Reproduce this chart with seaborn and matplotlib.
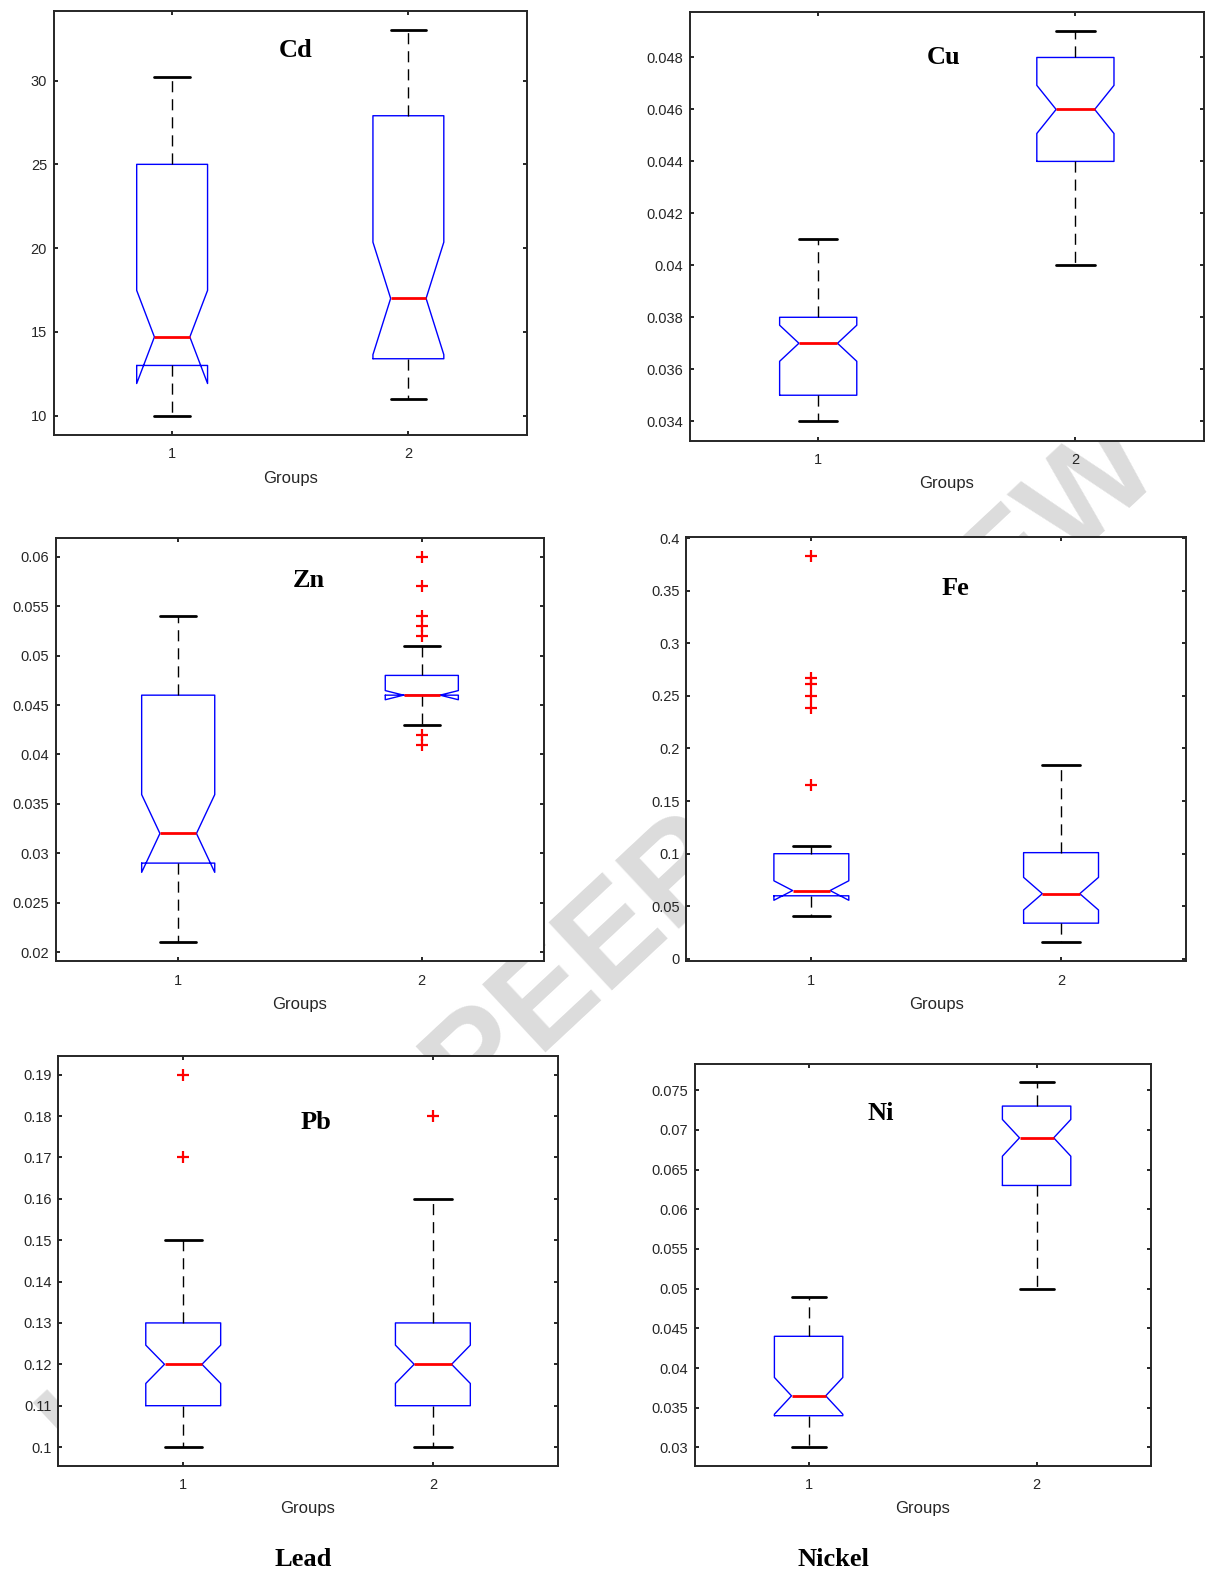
import numpy as np
import pandas as pd
import matplotlib
matplotlib.use("Agg")
import matplotlib.pyplot as plt
from matplotlib.ticker import MultipleLocator, FuncFormatter
import seaborn as sns

# ---------------- data ----------------
groups = ["1", "2"]

cd_g1 = [10.0, 10.4, 10.9, 11.2, 11.5, 11.8, 12.1, 12.3, 12.5, 12.7, 12.9,
         13.0, 13.0,
         13.2, 13.4, 13.5, 13.7, 13.9, 14.0, 14.2, 14.4, 14.5,
         14.7, 14.7,
         15.3, 16.1, 17.0, 18.2, 19.4, 20.5, 21.6, 22.8, 24.0,
         25.0, 25.0,
         25.6, 26.1, 26.7, 27.2, 27.6, 28.1, 28.5, 28.9, 29.4, 29.8, 30.2]
cd_g2 = [11.0, 11.3, 11.6, 11.9, 12.1, 12.4, 12.6, 12.8, 13.0, 13.1, 13.3,
         13.4, 13.4,
         13.8, 14.2, 14.6, 15.0, 15.4, 15.8, 16.2, 16.5, 16.8,
         17.0, 17.0,
         17.9, 19.0, 20.1, 21.3, 22.4, 23.6, 24.8, 25.9, 27.0,
         27.9, 27.9,
         28.4, 28.9, 29.3, 29.8, 30.2, 30.7, 31.1, 31.6, 32.0, 32.5, 33.0]

cu_g1 = [0.034, 0.034, 0.034, 0.034, 0.035, 0.035, 0.035, 0.035, 0.035, 0.035, 0.035,
         0.035, 0.035,
         0.036, 0.036, 0.036, 0.036, 0.036, 0.037, 0.037, 0.037, 0.037,
         0.037, 0.037,
         0.037, 0.037, 0.037, 0.037, 0.038, 0.038, 0.038, 0.038, 0.038,
         0.038, 0.038,
         0.038, 0.038, 0.038, 0.039, 0.039, 0.039, 0.040, 0.040, 0.040, 0.041, 0.041]
cu_g2 = [0.040, 0.041, 0.041, 0.042, 0.042, 0.043, 0.043, 0.043, 0.044, 0.044, 0.044,
         0.044, 0.044,
         0.045, 0.045, 0.045, 0.045, 0.045, 0.046, 0.046, 0.046, 0.046,
         0.046, 0.046,
         0.046, 0.046, 0.047, 0.047, 0.047, 0.047, 0.047, 0.048, 0.048,
         0.048, 0.048,
         0.048, 0.048, 0.048, 0.048, 0.048, 0.049, 0.049, 0.049, 0.049, 0.049, 0.049]

zn_g1 = [0.021, 0.022, 0.023, 0.024, 0.025, 0.026, 0.026, 0.027, 0.028, 0.028, 0.029,
         0.029, 0.029,
         0.030, 0.030, 0.030, 0.031, 0.031, 0.031, 0.031, 0.032, 0.032,
         0.032, 0.032,
         0.033, 0.034, 0.036, 0.037, 0.039, 0.040, 0.042, 0.043, 0.045,
         0.046, 0.046,
         0.046, 0.047, 0.048, 0.048, 0.049, 0.050, 0.051, 0.052, 0.052, 0.053, 0.054]
zn_g2 = [0.041, 0.042, 0.043, 0.044, 0.044, 0.045, 0.045, 0.045, 0.046, 0.046, 0.046,
         0.046, 0.046,
         0.046, 0.046, 0.046, 0.046, 0.046, 0.046, 0.046, 0.046, 0.046,
         0.046, 0.046,
         0.046, 0.046, 0.047, 0.047, 0.047, 0.047, 0.047, 0.048, 0.048,
         0.048, 0.048,
         0.048, 0.049, 0.049, 0.050, 0.050, 0.051, 0.052, 0.053, 0.054, 0.057, 0.060]

fe_g1 = [0.041, 0.046, 0.050, 0.052, 0.054, 0.055, 0.056, 0.057, 0.058, 0.059, 0.060,
         0.060, 0.060,
         0.061, 0.061, 0.062, 0.062, 0.063, 0.063, 0.064, 0.064, 0.065,
         0.065, 0.065,
         0.067, 0.070, 0.073, 0.077, 0.081, 0.085, 0.089, 0.093, 0.097,
         0.100, 0.100,
         0.101, 0.102, 0.104, 0.105, 0.107, 0.165, 0.238, 0.250, 0.261, 0.267, 0.383]
fe_g2 = [0.016, 0.019, 0.021, 0.023, 0.025, 0.027, 0.028, 0.030, 0.031, 0.032, 0.033,
         0.034, 0.034,
         0.036, 0.039, 0.042, 0.045, 0.048, 0.051, 0.054, 0.057, 0.060,
         0.062, 0.062,
         0.065, 0.069, 0.073, 0.077, 0.081, 0.085, 0.089, 0.093, 0.097,
         0.101, 0.101,
         0.104, 0.108, 0.113, 0.119, 0.126, 0.134, 0.143, 0.152, 0.162, 0.173, 0.184]

pb_g1 = [0.10, 0.10, 0.10, 0.10, 0.10, 0.10, 0.11, 0.11, 0.11, 0.11, 0.11,
         0.11, 0.11,
         0.11, 0.11, 0.11, 0.12, 0.12, 0.12, 0.12, 0.12, 0.12,
         0.12, 0.12,
         0.12, 0.12, 0.12, 0.12, 0.13, 0.13, 0.13, 0.13, 0.13,
         0.13, 0.13,
         0.13, 0.13, 0.13, 0.14, 0.14, 0.14, 0.15, 0.15, 0.15, 0.17, 0.19]
pb_g2 = [0.10, 0.10, 0.10, 0.10, 0.10, 0.10, 0.11, 0.11, 0.11, 0.11, 0.11,
         0.11, 0.11,
         0.11, 0.11, 0.11, 0.12, 0.12, 0.12, 0.12, 0.12, 0.12,
         0.12, 0.12,
         0.12, 0.12, 0.12, 0.12, 0.13, 0.13, 0.13, 0.13, 0.13,
         0.13, 0.13,
         0.13, 0.13, 0.13, 0.14, 0.14, 0.14, 0.15, 0.15, 0.16, 0.16, 0.18]

ni_g1 = [0.030, 0.031, 0.031, 0.032, 0.032, 0.033, 0.033, 0.033, 0.034, 0.034, 0.034,
         0.034, 0.034,
         0.034, 0.035, 0.035, 0.035, 0.035, 0.036, 0.036, 0.036, 0.036,
         0.036, 0.037,
         0.037, 0.038, 0.038, 0.039, 0.040, 0.041, 0.042, 0.043, 0.043,
         0.044, 0.044,
         0.044, 0.045, 0.045, 0.046, 0.046, 0.047, 0.047, 0.048, 0.048, 0.049, 0.049]
ni_g2 = [0.050, 0.053, 0.055, 0.057, 0.058, 0.059, 0.060, 0.061, 0.062, 0.062, 0.063,
         0.063, 0.063,
         0.064, 0.064, 0.065, 0.066, 0.066, 0.067, 0.067, 0.068, 0.068,
         0.069, 0.069,
         0.070, 0.070, 0.070, 0.071, 0.071, 0.071, 0.072, 0.072, 0.072,
         0.073, 0.073,
         0.073, 0.073, 0.074, 0.074, 0.074, 0.075, 0.075, 0.075, 0.076, 0.076, 0.076]

element_labels = ["Cd", "Cu", "Zn", "Fe", "Pb", "Ni"]
series = [(cd_g1, cd_g2), (cu_g1, cu_g2), (zn_g1, zn_g2),
          (fe_g1, fe_g2), (pb_g1, pb_g2), (ni_g1, ni_g2)]
tick_steps = [5, 0.002, 0.005, 0.05, 0.01, 0.005]
x_label = "Groups"
captions = ["Lead", "Nickel"]
watermark = "UNDER PEER REVIEW"

# ---------------- layout (pixel boxes: left, right, top, bottom) ----------------
W, H = 1208, 1578
boxes = [(54, 526.5, 11, 435), (689.6, 1204, 12, 440.7),
         (56.4, 543.6, 537.6, 961.4), (686.5, 1185.9, 536.6, 961.4),
         (58.4, 557.7, 1056, 1465.7), (694.6, 1150.6, 1064, 1465.7)]
label_pos = [(0.511, 0.908), (0.493, 0.894), (0.518, 0.898),
             (0.538, 0.879), (0.516, 0.838), (0.408, 0.877)]
caption_pos = [(303, 1560), (833.5, 1560)]

sns.set_theme(style="ticks")
plt.rcParams["font.family"] = ["Liberation Sans", "DejaVu Sans"]
plt.rcParams["axes.linewidth"] = 1.4

fig = plt.figure(figsize=(W / 100, H / 100), dpi=100)
fig.patch.set_facecolor("white")

dark = "#262626"
fmt = FuncFormatter(lambda v, p: f"{round(v, 6) + 0.0:g}")

for i, (lab, (g1, g2)) in enumerate(zip(element_labels, series)):
    l, r, t, b = boxes[i]
    ax = fig.add_axes([l / W, 1 - b / H, (r - l) / W, (b - t) / H])
    ax.set_facecolor("white")
    df = pd.DataFrame({"Groups": [groups[0]] * len(g1) + [groups[1]] * len(g2),
                       "value": list(g1) + list(g2)})
    sns.boxplot(data=df, x="Groups", y="value", order=groups, notch=True,
                width=0.3, fill=False, whis=1.51, ax=ax,
                boxprops=dict(color="#0000ff", linewidth=1.0),
                medianprops=dict(color="#ff0000", linewidth=2.0),
                whiskerprops=dict(color="black", linewidth=1.0, linestyle=(0, (8, 5))),
                capprops=dict(color="black", linewidth=2.0),
                flierprops=dict(marker="+", markeredgecolor="#ff0000",
                                markerfacecolor="none", markersize=9,
                                markeredgewidth=1.6))
    allv = np.array(list(g1) + list(g2))
    rng = allv.max() - allv.min()
    ax.set_ylim(allv.min() - 0.05 * rng, allv.max() + 0.05 * rng)
    ax.set_xlim(-0.5, 1.5)
    ax.yaxis.set_major_locator(MultipleLocator(tick_steps[i]))
    ax.yaxis.set_major_formatter(fmt)
    ax.tick_params(direction="in", top=True, right=True, length=3.2, width=1.4,
                   color=dark, labelcolor=dark, labelsize=10.5)
    ax.tick_params(axis="x", pad=9)
    ax.tick_params(axis="y", pad=5)
    for s in ax.spines.values():
        s.set_visible(True)
        s.set_color(dark)
        s.set_linewidth(1.4)
    ax.set_ylabel("")
    ax.set_xlabel(x_label, fontsize=12, color=dark, labelpad=6.5)
    ax.text(label_pos[i][0], label_pos[i][1], lab, transform=ax.transAxes,
            ha="center", va="center", fontsize=19, fontweight="bold",
            family=["Liberation Serif", "DejaVu Serif"], color="black")

for cap, (cx, cy) in zip(captions, caption_pos):
    fig.text(cx / W, 1 - cy / H, cap, ha="center", va="center", fontsize=19,
             fontweight="bold", family=["Liberation Serif", "DejaVu Serif"], color="black")

fig.text(0.5, 1 - 950 / H, watermark, rotation=43, rotation_mode="anchor",
         ha="center", va="center", fontsize=98, fontweight="bold",
         color="#dcdcdc", zorder=-1)

fig.savefig("out.png", dpi=100)
